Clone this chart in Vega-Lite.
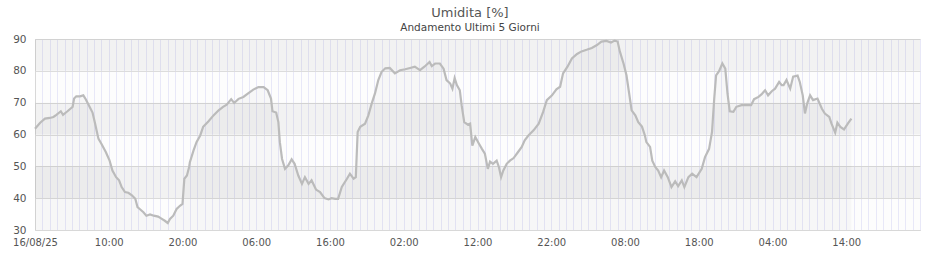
{
  "$schema": "https://vega.github.io/schema/vega-lite/v6.json",
  "width": 885,
  "height": 191,
  "autosize": {"type": "none"},
  "padding": {"left": 35, "top": 39, "right": 20, "bottom": 30},
  "background": "white",
  "title": {
    "text": "Umidita [%]",
    "subtitle": "Andamento Ultimi 5 Giorni",
    "anchor": "middle",
    "frame": "group",
    "dx": -7.5,
    "offset": 1,
    "font": "DejaVu Sans",
    "fontSize": 13,
    "fontWeight": "normal",
    "color": "#555555",
    "subtitleFont": "DejaVu Sans",
    "subtitleFontSize": 10.5,
    "subtitleColor": "#444444",
    "subtitlePadding": 3
  },
  "config": {
    "view": {"stroke": "#d8d8d8", "fill": "#fdfdfd"},
    "font": "DejaVu Sans"
  },
  "datasets": {
    "umidita": [
      {"h": 0.0, "v": 61.8}, {"h": 0.7, "v": 63.7}, {"h": 1.35, "v": 65}, {"h": 2.0, "v": 65.2},
      {"h": 2.5, "v": 65.5}, {"h": 2.9, "v": 66.2}, {"h": 3.5, "v": 67.3}, {"h": 3.8, "v": 66.2},
      {"h": 4.4, "v": 67.3}, {"h": 4.8, "v": 68.1}, {"h": 5.1, "v": 68.7}, {"h": 5.3, "v": 71.3},
      {"h": 5.6, "v": 72}, {"h": 6.1, "v": 72}, {"h": 6.55, "v": 72.3}, {"h": 6.9, "v": 71},
      {"h": 7.4, "v": 68.7}, {"h": 7.8, "v": 66.9}, {"h": 8.1, "v": 63.9}, {"h": 8.6, "v": 58.7},
      {"h": 9.0, "v": 57.1}, {"h": 9.6, "v": 54.5}, {"h": 10.1, "v": 51.9}, {"h": 10.5, "v": 48.7},
      {"h": 11.0, "v": 46.6}, {"h": 11.4, "v": 45.6}, {"h": 11.75, "v": 43.5}, {"h": 12.2, "v": 41.9},
      {"h": 12.65, "v": 41.7}, {"h": 13.1, "v": 41.0}, {"h": 13.6, "v": 39.8}, {"h": 13.9, "v": 37.2},
      {"h": 14.2, "v": 36.6}, {"h": 14.7, "v": 35.6}, {"h": 15.1, "v": 34.5}, {"h": 15.6, "v": 34.9},
      {"h": 16.1, "v": 34.5}, {"h": 16.7, "v": 34.2}, {"h": 17.2, "v": 33.5}, {"h": 17.6, "v": 32.9},
      {"h": 18.0, "v": 32.2}, {"h": 18.3, "v": 33.5}, {"h": 18.75, "v": 34.5}, {"h": 19.2, "v": 36.6},
      {"h": 19.7, "v": 37.7}, {"h": 20.0, "v": 38.2}, {"h": 20.25, "v": 46.1}, {"h": 20.6, "v": 47.1},
      {"h": 20.9, "v": 49.8}, {"h": 21.0, "v": 51.3}, {"h": 21.5, "v": 55}, {"h": 21.9, "v": 57.6},
      {"h": 22.4, "v": 59.7}, {"h": 22.8, "v": 62.4}, {"h": 23.5, "v": 64.1}, {"h": 24.2, "v": 66},
      {"h": 24.9, "v": 67.6}, {"h": 25.5, "v": 68.7}, {"h": 26.0, "v": 69.4}, {"h": 26.6, "v": 71.1},
      {"h": 27.0, "v": 69.9}, {"h": 27.6, "v": 71.2}, {"h": 28.25, "v": 71.8}, {"h": 28.9, "v": 72.9},
      {"h": 29.6, "v": 74.1}, {"h": 30.3, "v": 74.9}, {"h": 31.0, "v": 74.9}, {"h": 31.55, "v": 73.9},
      {"h": 32.0, "v": 71.3}, {"h": 32.2, "v": 67.3}, {"h": 32.7, "v": 66.9}, {"h": 33.0, "v": 63.9},
      {"h": 33.2, "v": 57.6}, {"h": 33.5, "v": 52.3}, {"h": 33.9, "v": 49.2}, {"h": 34.35, "v": 50.3},
      {"h": 34.8, "v": 52.2}, {"h": 35.2, "v": 50.8}, {"h": 35.7, "v": 47.1}, {"h": 36.2, "v": 44.5},
      {"h": 36.6, "v": 46.6}, {"h": 37.1, "v": 44.5}, {"h": 37.5, "v": 45.6}, {"h": 38.1, "v": 42.7},
      {"h": 38.65, "v": 41.9}, {"h": 39.25, "v": 40}, {"h": 39.8, "v": 39.6}, {"h": 40.2, "v": 40},
      {"h": 40.7, "v": 39.8}, {"h": 41.1, "v": 39.8}, {"h": 41.6, "v": 43.5}, {"h": 42.3, "v": 46.1},
      {"h": 42.7, "v": 47.7}, {"h": 43.2, "v": 46.1}, {"h": 43.5, "v": 46.6}, {"h": 43.75, "v": 60.8},
      {"h": 44.1, "v": 62.4}, {"h": 44.75, "v": 63.4}, {"h": 45.2, "v": 66}, {"h": 45.65, "v": 69.7},
      {"h": 46.1, "v": 72.9}, {"h": 46.55, "v": 77.1}, {"h": 47.0, "v": 79.7}, {"h": 47.5, "v": 80.8},
      {"h": 48.1, "v": 80.9}, {"h": 48.8, "v": 79.2}, {"h": 49.5, "v": 80.2}, {"h": 50.2, "v": 80.5},
      {"h": 50.85, "v": 80.9}, {"h": 51.5, "v": 81.3}, {"h": 52.2, "v": 80.2}, {"h": 52.8, "v": 81.3},
      {"h": 53.5, "v": 82.8}, {"h": 53.8, "v": 81.5}, {"h": 54.25, "v": 82.3}, {"h": 54.9, "v": 82.3},
      {"h": 55.4, "v": 80.7}, {"h": 55.8, "v": 77.1}, {"h": 56.3, "v": 76}, {"h": 56.6, "v": 74.4},
      {"h": 56.9, "v": 77.7}, {"h": 57.2, "v": 75.5}, {"h": 57.6, "v": 73.9}, {"h": 57.85, "v": 69.2},
      {"h": 58.2, "v": 63.9}, {"h": 58.7, "v": 63.1}, {"h": 59.0, "v": 63.4}, {"h": 59.3, "v": 56.5},
      {"h": 59.7, "v": 59.2}, {"h": 60.2, "v": 57.1}, {"h": 60.6, "v": 55.5}, {"h": 61.0, "v": 54},
      {"h": 61.4, "v": 49.2}, {"h": 61.7, "v": 51.5}, {"h": 62.1, "v": 50.8}, {"h": 62.6, "v": 51.8},
      {"h": 62.9, "v": 49.8}, {"h": 63.2, "v": 46.6}, {"h": 63.5, "v": 48.7}, {"h": 63.96, "v": 50.8},
      {"h": 64.4, "v": 51.8}, {"h": 64.9, "v": 52.6}, {"h": 65.5, "v": 54.5}, {"h": 66.0, "v": 56.1},
      {"h": 66.4, "v": 58.2}, {"h": 66.9, "v": 59.7}, {"h": 67.6, "v": 61.3}, {"h": 68.3, "v": 63.4},
      {"h": 68.9, "v": 67.1}, {"h": 69.4, "v": 70.8}, {"h": 70.1, "v": 72.3}, {"h": 70.7, "v": 74.2},
      {"h": 71.2, "v": 75}, {"h": 71.6, "v": 79.2}, {"h": 72.2, "v": 81.3}, {"h": 72.8, "v": 83.9},
      {"h": 73.5, "v": 85.3}, {"h": 74.1, "v": 86.1}, {"h": 74.8, "v": 86.6}, {"h": 75.5, "v": 87.2},
      {"h": 76.2, "v": 88.1}, {"h": 76.8, "v": 89.2}, {"h": 77.5, "v": 89.4}, {"h": 78.1, "v": 88.9},
      {"h": 78.6, "v": 89.5}, {"h": 79.0, "v": 89.2}, {"h": 79.3, "v": 86.1}, {"h": 79.8, "v": 82.3},
      {"h": 80.2, "v": 78.6}, {"h": 80.5, "v": 73.9}, {"h": 80.9, "v": 67.6}, {"h": 81.4, "v": 66},
      {"h": 81.8, "v": 63.9}, {"h": 82.3, "v": 62.5}, {"h": 82.7, "v": 59.7}, {"h": 82.9, "v": 57.6},
      {"h": 83.4, "v": 56.1}, {"h": 83.7, "v": 51.8}, {"h": 84.1, "v": 49.8}, {"h": 84.5, "v": 48.7},
      {"h": 84.9, "v": 46.6}, {"h": 85.3, "v": 48.7}, {"h": 85.8, "v": 46.6}, {"h": 86.3, "v": 43.5},
      {"h": 86.8, "v": 45.3}, {"h": 87.2, "v": 43.8}, {"h": 87.7, "v": 45.6}, {"h": 88.05, "v": 43.5},
      {"h": 88.6, "v": 46.6}, {"h": 89.1, "v": 47.7}, {"h": 89.7, "v": 46.6}, {"h": 90.4, "v": 49.2},
      {"h": 90.85, "v": 52.9}, {"h": 91.4, "v": 55.5}, {"h": 91.8, "v": 60.8}, {"h": 92.1, "v": 71.3},
      {"h": 92.35, "v": 78.6}, {"h": 92.75, "v": 79.9}, {"h": 93.2, "v": 82.3}, {"h": 93.6, "v": 80.7},
      {"h": 93.9, "v": 72.8}, {"h": 94.2, "v": 67.3}, {"h": 94.7, "v": 67.1}, {"h": 95.1, "v": 68.7},
      {"h": 95.8, "v": 69.2}, {"h": 96.5, "v": 69.2}, {"h": 97.1, "v": 69.2}, {"h": 97.5, "v": 71.1},
      {"h": 98.1, "v": 71.8}, {"h": 98.5, "v": 72.6}, {"h": 99.0, "v": 73.9}, {"h": 99.4, "v": 72.3},
      {"h": 99.9, "v": 73.6}, {"h": 100.35, "v": 74.4}, {"h": 100.9, "v": 76.5}, {"h": 101.25, "v": 75.5},
      {"h": 101.5, "v": 75.5}, {"h": 101.9, "v": 77.1}, {"h": 102.4, "v": 74.4}, {"h": 102.8, "v": 78.2},
      {"h": 103.4, "v": 78.5}, {"h": 103.7, "v": 76.5}, {"h": 104.1, "v": 72.3}, {"h": 104.4, "v": 66.6},
      {"h": 104.7, "v": 69.7}, {"h": 105.1, "v": 72.3}, {"h": 105.5, "v": 70.8}, {"h": 106.1, "v": 71.3},
      {"h": 106.7, "v": 68.1}, {"h": 107.1, "v": 66.6}, {"h": 107.7, "v": 65.5}, {"h": 108.0, "v": 63.4},
      {"h": 108.5, "v": 60.6}, {"h": 108.8, "v": 63.7}, {"h": 109.2, "v": 62.4}, {"h": 109.7, "v": 61.6},
      {"h": 110.3, "v": 63.7}, {"h": 110.7, "v": 65}
    ]
  },
  "layer": [
    {
      "data": {"values": [{"lo": 40, "hi": 50}, {"lo": 60, "hi": 70}, {"lo": 80, "hi": 90}]},
      "mark": {"type": "rect", "color": "#000000", "opacity": 0.045},
      "encoding": {
        "y": {
          "field": "lo",
          "type": "quantitative",
          "scale": {"domain": [30, 90], "zero": false, "nice": false},
          "axis": {
            "values": [30, 40, 50, 60, 70, 80, 90],
            "tickCount": 50,
            "grid": true,
            "gridColor": "#dcdcdc",
            "ticks": false,
            "domain": true,
            "domainColor": "#d8d8d8",
            "labelPadding": 9,
            "labelOverlap": false,
            "labelFont": "DejaVu Sans",
            "labelFontSize": 10.5,
            "labelColor": "#555555",
            "title": null
          }
        },
        "y2": {"field": "hi"}
      }
    },
    {
      "data": {"name": "umidita"},
      "mark": {"type": "area", "color": "#000000", "opacity": 0.025},
      "encoding": {
        "x": {
          "field": "h",
          "type": "quantitative",
          "scale": {"domain": [0, 120], "zero": false, "nice": false},
          "axis": {
            "values": [0,1,2,3,4,5,6,7,8,9,10,11,12,13,14,15,16,17,18,19,20,21,22,23,24,25,26,27,28,29,30,31,32,33,34,35,36,37,38,39,40,41,42,43,44,45,46,47,48,49,50,51,52,53,54,55,56,57,58,59,60,61,62,63,64,65,66,67,68,69,70,71,72,73,74,75,76,77,78,79,80,81,82,83,84,85,86,87,88,89,90,91,92,93,94,95,96,97,98,99,100,101,102,103,104,105,106,107,108,109,110,111,112,113,114,115,116,117,118,119,120],
            "tickCount": 500,
            "grid": true,
            "gridColor": "#e8e8f8",
            "ticks": false,
            "domain": true,
            "domainColor": "#d8d8d8",
            "labelExpr": "datum.value % 10 != 0 || datum.value >= 120 ? '' : (datum.value == 0 ? '16/08/25' : ((datum.value % 24) < 10 ? '0' : '') + (datum.value % 24) + ':00')",
            "labelFlush": false,
            "labelOverlap": false,
            "labelBound": false,
            "labelPadding": 7,
            "labelFont": "DejaVu Sans",
            "labelFontSize": 10,
            "labelColor": "#555555",
            "title": null
          }
        },
        "y": {"field": "v", "type": "quantitative"},
        "y2": {"datum": 30}
      }
    },
    {
      "data": {"name": "umidita"},
      "mark": {"type": "line", "color": "#bbbbbb", "strokeWidth": 2.2},
      "encoding": {
        "x": {"field": "h", "type": "quantitative"},
        "y": {"field": "v", "type": "quantitative"}
      }
    }
  ]
}
